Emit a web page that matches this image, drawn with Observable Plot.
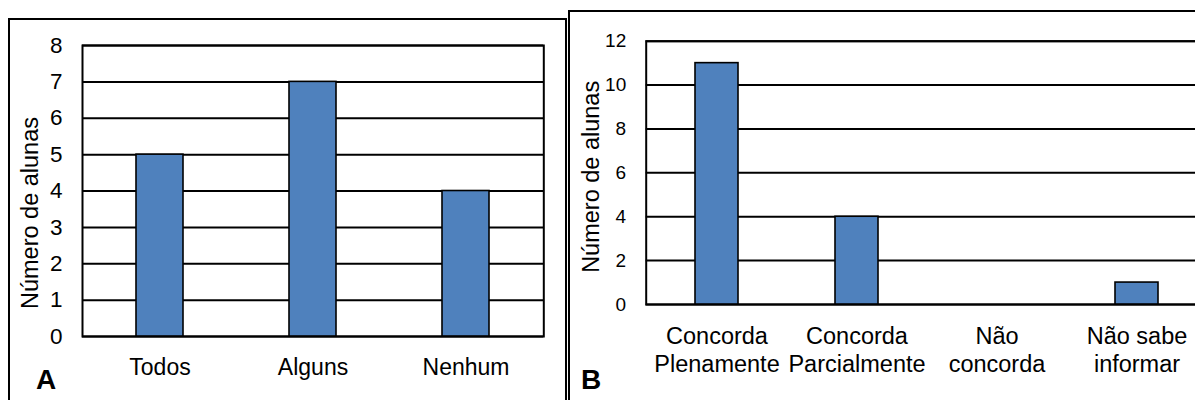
<!DOCTYPE html>
<html>
<head>
<meta charset="utf-8">
<script src="https://cdn.jsdelivr.net/npm/d3@7"></script>
<script src="https://cdn.jsdelivr.net/npm/@observablehq/plot@0.6"></script>
<style>
  html, body { margin: 0; padding: 0; background: #fff; overflow: hidden; }
  #wrap { position: relative; width: 1195px; height: 400px; overflow: hidden; background: #fff; font-family: "Liberation Sans", Arial, sans-serif; }
  .frame { position: absolute; box-sizing: border-box; border: 2px solid #000; }
  .layer { position: absolute; left: 0; top: 0; }
  .tag { position: absolute; font-weight: bold; font-size: 28px; line-height: 28px; color: #000; }
</style>
</head>
<body>
<div id="wrap">
  <div class="frame" style="left:8px; top:18px; width:559px; height:420px;"></div>
  <div class="frame" style="left:568px; top:10px; width:700px; height:420px;"></div>
  <div id="plotA" class="layer"></div>
  <div id="plotB" class="layer"></div>
  <div class="tag" style="left:36px; top:366px;">A</div>
  <div class="tag" style="left:581px; top:366px;">B</div>
</div>
<script>
// Panel A data
const catsA = ["Todos", "Alguns", "Nenhum"];
const valsA = [5, 7, 4];
const ticksA = [0, 1, 2, 3, 4, 5, 6, 7, 8];

// Panel B data
const catsB = ["Concorda\nPlenamente", "Concorda\nParcialmente", "Não\nconcorda", "Não sabe\ninformar"];
const valsB = [11, 4, 0, 1];
const ticksB = [0, 2, 4, 6, 8, 10, 12];

const yLabel = "Número de alunas";
const barFill = "#4F81BD";
const font = "'Liberation Sans', Arial, sans-serif";

const dataA = catsA.map((c, i) => ({cat: c, value: valsA[i]}));
const dataB = catsB.map((c, i) => ({cat: c, value: valsB[i]}));

function panel({data, cats, ticks, width, marginLeft, marginRight, marginTop, marginBottom, tickFont, catFont, catPad, labelDx, labelDy}) {
  return Plot.plot({
    width, height: 400,
    marginLeft, marginRight, marginTop, marginBottom,
    style: {fontFamily: font, background: "transparent", overflow: "visible", maxWidth: "none", color: "#000"},
    x: {domain: cats, paddingInner: 0.69, paddingOuter: 0.345, label: null},
    y: {domain: [ticks[0], ticks[ticks.length - 1]], label: null},
    marks: [
      Plot.gridY(ticks, {stroke: "#000", strokeOpacity: 1, strokeWidth: 2}),
      Plot.frame({stroke: "#000", strokeWidth: 2}),
      Plot.barY(data, {x: "cat", y: "value", fill: barFill, stroke: "#000", strokeWidth: 1.6}),
      Plot.axisY({ticks, tickSize: 0, tickPadding: 20, fontSize: tickFont, label: null, fill: "#000"}),
      Plot.axisX({tickSize: 0, tickPadding: catPad, fontSize: catFont, lineHeight: 1.16, label: null, fill: "#000"}),
      Plot.text([yLabel], {frameAnchor: "left", textAnchor: "middle", rotate: -90, dx: labelDx, dy: labelDy, lineAnchor: "bottom", fontSize: 23.5, fill: "#000"})
    ]
  });
}

document.getElementById("plotA").append(panel({
  data: dataA, cats: catsA, ticks: ticksA, width: 1195,
  marginLeft: 82, marginRight: 1195 - 543.3, marginTop: 45, marginBottom: 64,
  tickFont: 22.5, catFont: 23, catPad: 19.5, labelDx: -45, labelDy: 22
}));

document.getElementById("plotB").append(panel({
  data: dataB, cats: catsB, ticks: ticksB, width: 1220,
  marginLeft: 645.7, marginRight: 13, marginTop: 40.7, marginBottom: 96,
  tickFont: 19, catFont: 23.5, catPad: 20.5, labelDx: -47.7, labelDy: 4
}));
</script>
</body>
</html>
